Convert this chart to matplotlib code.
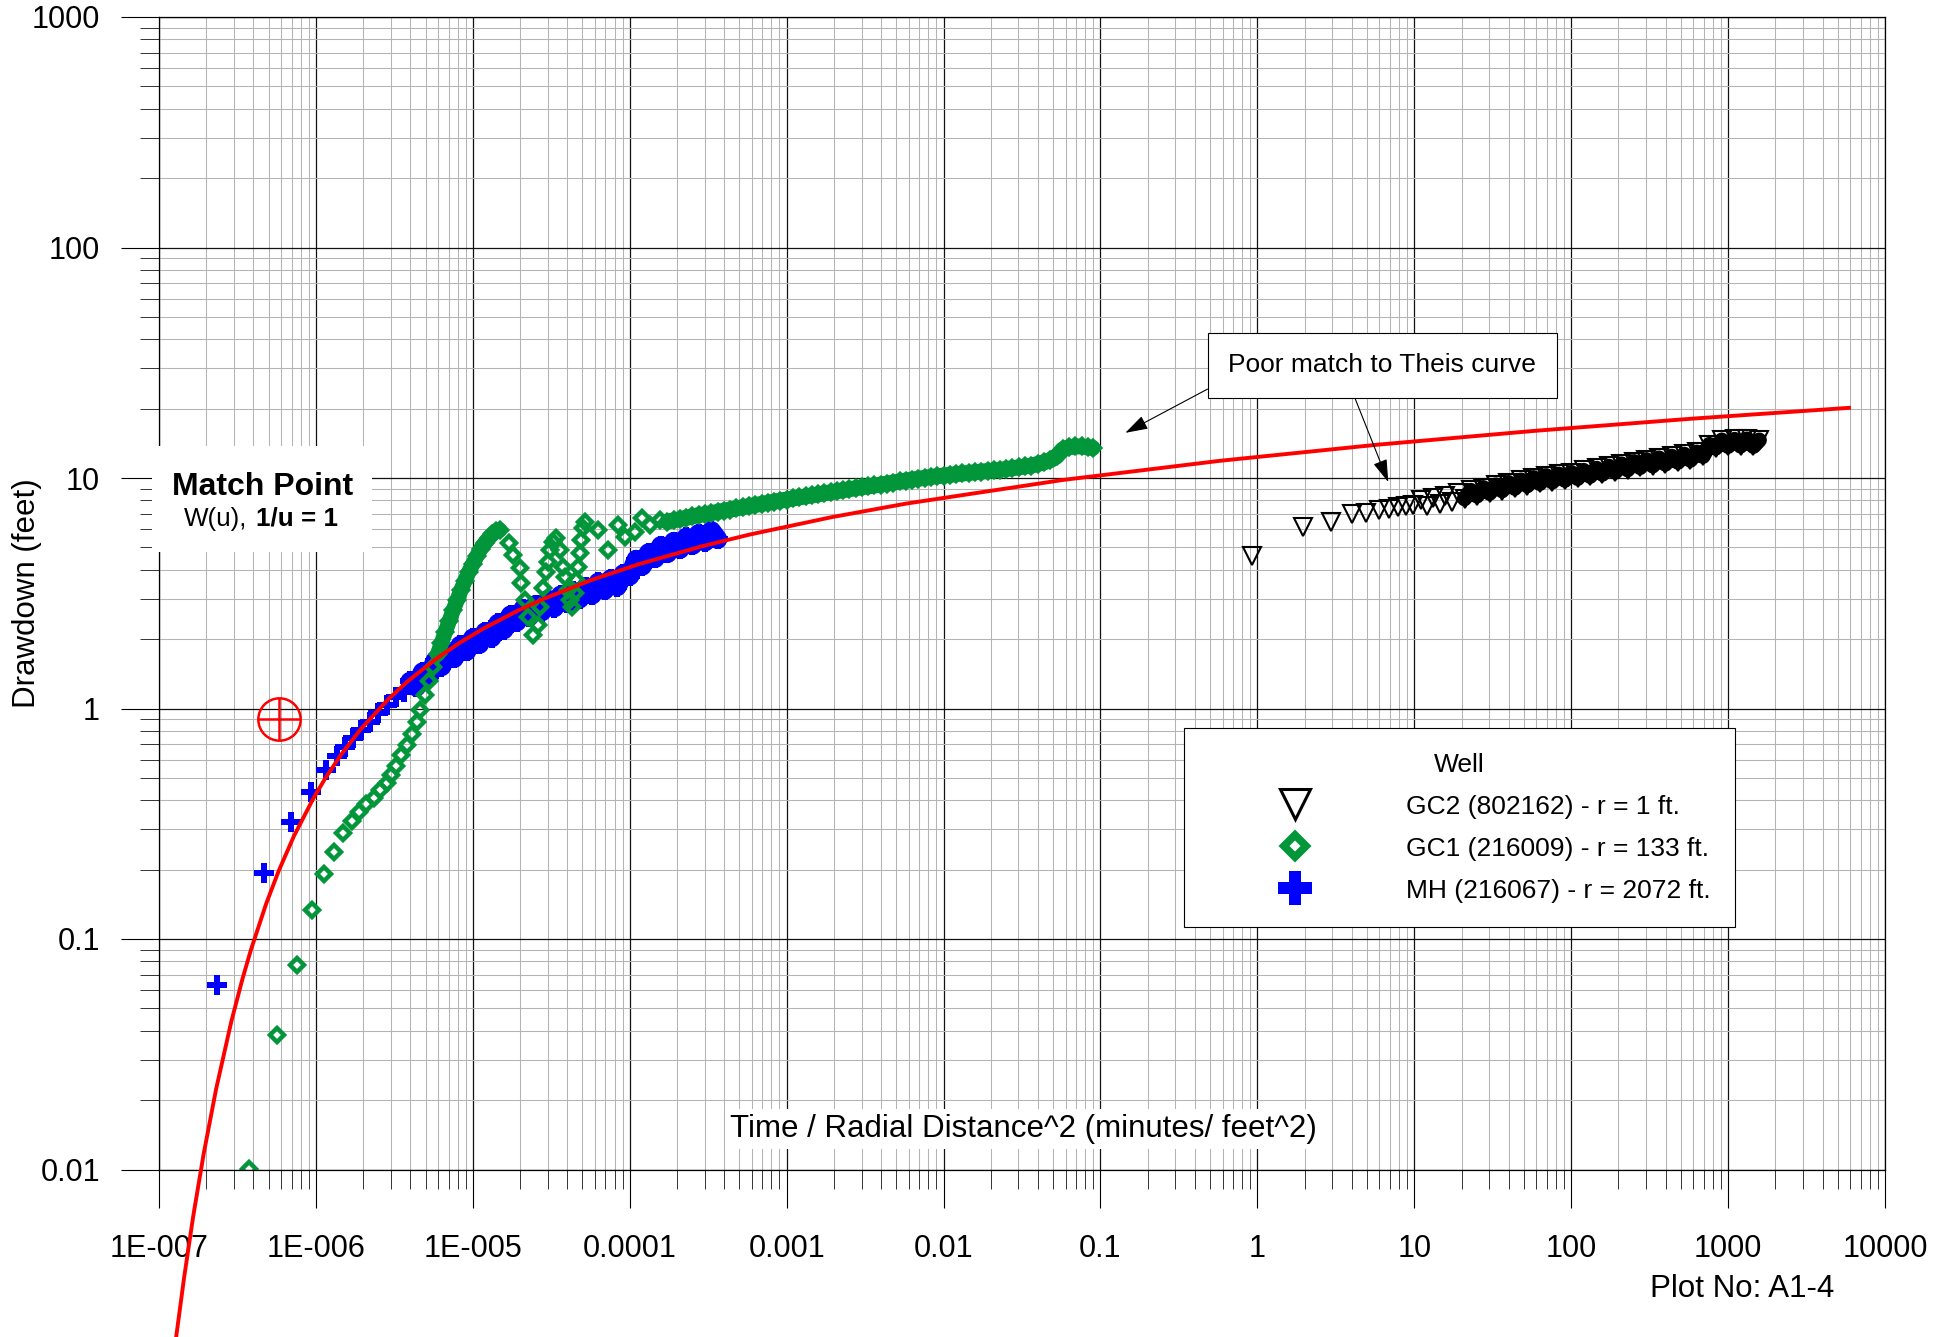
import matplotlib
matplotlib.use('Agg')
import matplotlib.pyplot as plt
from matplotlib.ticker import FixedLocator, FixedFormatter, LogLocator, NullFormatter
from matplotlib.lines import Line2D
from matplotlib.patches import Rectangle

plt.rcParams['font.family'] = ['Liberation Sans', 'DejaVu Sans']

# ---------------- data ----------------
x_ticks = [1e-7, 1e-6, 1e-5, 1e-4, 1e-3, 1e-2, 1e-1, 1, 10, 100, 1000, 10000]
x_tick_labels = ['1E-007', '1E-006', '1E-005', '0.0001', '0.001', '0.01', '0.1',
                 '1', '10', '100', '1000', '10000']
y_ticks = [0.01, 0.1, 1, 10, 100, 1000]
y_tick_labels = ['0.01', '0.1', '1', '10', '100', '1000']

well_labels = ['GC2 (802162) - r = 1 ft.',
               'GC1 (216009) - r = 133 ft.',
               'MH (216067) - r = 2072 ft.']

# GC2 (r = 1 ft)
gc2_t = [0.927, 1.94, 2.96, 3.99, 4.96, 5.97, 6.95, 7.91, 8.85, 9.78,
         10.96, 12.0, 13.2, 14.5, 15.8, 17.4, 19.1, 20.9, 22.9, 25.1,
         27.5, 30.2, 33.1, 36.3, 39.8, 43.7, 47.9, 52.5, 57.5, 63.1,
         69.2, 75.9, 83.2, 91.2, 100, 110, 120, 132, 145, 158,
         174, 191, 209, 229, 251, 275, 302, 331, 363, 398,
         437, 479, 525, 575, 631, 692, 759, 832, 912, 1000,
         1100, 1200, 1320, 1450, 1580]
gc2_s = [4.59, 6.15, 6.46, 6.96, 7.03, 7.26, 7.31, 7.46, 7.56, 7.64,
         8.02, 7.56, 8.18, 7.71, 8.35, 7.89, 8.58, 8.13, 8.83, 8.36,
         9.08, 8.59, 9.32, 8.81, 9.55, 9.03, 9.79, 9.26, 10.03, 9.47,
         10.23, 9.62, 10.39, 9.78, 10.56, 9.96, 10.78, 10.17, 11.01, 10.39,
         11.24, 10.61, 11.50, 10.86, 11.77, 11.11, 12.0, 11.29, 12.2, 11.49,
         12.42, 11.71, 12.67, 11.95, 12.94, 12.42, 13.97, 13.48, 14.59, 13.72,
         14.7, 13.77, 14.75, 13.72, 14.6]

# GC1 (r = 133 ft)
gc1_t = [3.74e-7, 5.67e-7, 7.53e-7, 9.39e-7, 1.13e-6, 1.31e-6, 1.49e-6, 1.70e-6, 1.89e-6, 2.10e-6,
         2.34e-6, 2.58e-6, 2.82e-6, 3.03e-6, 3.26e-6, 3.51e-6, 3.78e-6, 4.07e-6, 4.38e-6, 4.64e-6,
         4.94e-6, 5.27e-6, 5.58e-6,
         5.96e-6, 6.31e-6, 6.68e-6, 7.08e-6, 7.50e-6, 7.94e-6, 8.41e-6, 8.91e-6, 9.44e-6, 1.00e-5,
         1.06e-5, 1.12e-5, 1.19e-5, 1.26e-5, 1.33e-5, 1.41e-5, 1.48e-5,
         1.70e-5, 1.81e-5, 1.99e-5, 2.04e-5, 2.14e-5, 2.25e-5, 2.42e-5, 2.61e-5, 2.67e-5, 2.81e-5,
         2.92e-5, 3.02e-5, 3.09e-5, 3.25e-5, 3.41e-5, 3.58e-5, 3.76e-5, 3.85e-5, 4.05e-5, 4.15e-5,
         4.26e-5, 4.47e-5, 4.57e-5, 4.69e-5, 4.81e-5, 4.92e-5, 5.05e-5, 5.16e-5, 6.28e-5, 7.28e-5,
         8.41e-5, 9.29e-5, 1.08e-4, 1.19e-4, 1.34e-4, 1.55e-4,
         1.74e-4, 1.91e-4, 2.09e-4, 2.29e-4, 2.51e-4, 2.75e-4, 3.02e-4, 3.31e-4, 3.63e-4, 3.98e-4,
         4.37e-4, 4.79e-4, 5.25e-4, 5.75e-4, 6.31e-4, 6.92e-4, 7.59e-4, 8.32e-4, 9.12e-4, 1.00e-3,
         1.10e-3, 1.20e-3, 1.32e-3, 1.45e-3, 1.58e-3, 1.74e-3, 1.91e-3, 2.09e-3, 2.29e-3, 2.51e-3,
         2.75e-3, 3.02e-3, 3.31e-3, 3.63e-3, 3.98e-3, 4.37e-3, 4.79e-3, 5.25e-3, 5.75e-3, 6.31e-3,
         6.92e-3, 7.59e-3, 8.32e-3, 9.12e-3, 1.00e-2, 1.10e-2, 1.20e-2, 1.32e-2, 1.45e-2, 1.58e-2,
         1.74e-2, 1.91e-2, 2.09e-2, 2.29e-2, 2.51e-2, 2.75e-2, 3.02e-2, 3.31e-2, 3.63e-2, 3.98e-2,
         4.37e-2, 4.79e-2, 5.25e-2, 5.75e-2, 6.31e-2, 6.92e-2, 7.59e-2, 8.32e-2, 8.91e-2]
gc1_s = [0.0101, 0.0382, 0.0775, 0.134, 0.192, 0.239, 0.287, 0.324, 0.356, 0.384,
         0.411, 0.441, 0.473, 0.516, 0.564, 0.626, 0.697, 0.774, 0.875, 0.989,
         1.14, 1.31, 1.51,
         1.72, 1.92, 2.15, 2.40, 2.67, 2.95, 3.26, 3.59, 3.92, 4.24,
         4.58, 4.92, 5.21, 5.47, 5.70, 5.88, 5.95,
         5.24, 4.63, 4.06, 3.49, 2.96, 2.50, 2.08, 2.30, 2.77, 3.32,
         3.92, 4.34, 4.87, 5.30, 5.48, 4.87, 4.12, 3.73, 3.27, 2.96,
         2.77, 3.16, 3.61, 4.12, 4.71, 5.38, 6.05, 6.46, 5.95, 4.87,
         6.25, 5.56, 5.84, 6.68, 6.25, 6.57,
         6.47, 6.55, 6.63, 6.72, 6.81, 6.90, 6.96, 7.04, 7.13, 7.21,
         7.30, 7.38, 7.47, 7.55, 7.64, 7.72, 7.80, 7.89, 7.98, 8.06,
         8.15, 8.24, 8.32, 8.41, 8.49, 8.58, 8.67, 8.76, 8.85, 8.94,
         9.03, 9.12, 9.19, 9.28, 9.37, 9.46, 9.55, 9.66, 9.75, 9.84,
         9.93, 10.02, 10.11, 10.18, 10.25, 10.32, 10.39, 10.46, 10.52, 10.59,
         10.66, 10.72, 10.79, 10.85, 10.94, 11.03, 11.12, 11.22, 11.32, 11.5,
         11.7, 11.95, 12.4, 13.3, 13.6, 13.7, 13.7, 13.6, 13.5]

# MH (r = 2072 ft)
mh_t = [2.33e-7, 4.69e-7, 6.97e-7, 9.32e-7, 1.16e-6, 1.36e-6, 1.53e-6, 1.73e-6, 1.95e-6, 2.21e-6,
        2.49e-6, 2.82e-6, 3.26e-6, 3.62e-6,
        3.98e-6, 4.37e-6, 4.79e-6, 5.25e-6, 5.75e-6, 6.31e-6, 6.92e-6, 7.59e-6, 8.32e-6, 9.12e-6,
        1.00e-5, 1.10e-5, 1.20e-5, 1.32e-5, 1.45e-5, 1.58e-5, 1.74e-5, 1.91e-5, 2.09e-5, 2.29e-5,
        2.51e-5, 2.75e-5, 3.02e-5, 3.31e-5, 3.63e-5, 3.98e-5, 4.37e-5, 4.79e-5, 5.25e-5, 5.75e-5,
        6.31e-5, 6.92e-5, 7.59e-5, 8.32e-5, 9.12e-5, 1.00e-4, 1.10e-4, 1.20e-4, 1.32e-4, 1.45e-4,
        1.58e-4, 1.74e-4, 1.91e-4, 2.09e-4, 2.29e-4, 2.51e-4, 2.75e-4, 3.02e-4, 3.31e-4, 3.63e-4]
mh_s = [0.063, 0.194, 0.3225, 0.436, 0.540, 0.624, 0.683, 0.742, 0.807, 0.876,
        0.953, 1.036, 1.125, 1.18,
        1.31, 1.24, 1.44, 1.38, 1.61, 1.52, 1.75, 1.65, 1.88, 1.77,
        2.02, 1.90, 2.15, 2.03, 2.34, 2.20, 2.54, 2.38, 2.70, 2.50,
        2.82, 2.63, 2.97, 2.74, 3.10, 2.87, 3.22, 2.99, 3.36, 3.11,
        3.53, 3.26, 3.65, 3.38, 3.84, 3.76, 4.43, 4.15, 4.73, 4.48,
        5.08, 4.71, 5.30, 4.91, 5.53, 5.11, 5.73, 5.29, 5.90, 5.42]

# Theis type curve (as drawn)
theis_t = [1.284e-7, 1.445e-7, 1.651e-7, 1.927e-7, 2.312e-7, 2.890e-7, 3.400e-7, 3.853e-7, 4.817e-7, 5.78e-7,
           7.225e-7, 9.633e-7, 1.156e-6, 1.445e-6, 1.927e-6, 2.890e-6, 3.853e-6, 5.78e-6, 8.257e-6, 1.156e-5,
           1.927e-5, 2.89e-5, 5.78e-5, 1.156e-4, 2.89e-4, 5.78e-4, 1.927e-3, 5.78e-3, 0.0578, 0.578,
           5.78, 57.8, 578, 5898]
theis_s = [0.00186, 0.00339, 0.00625, 0.01171, 0.02234, 0.04386, 0.06696, 0.0897, 0.1421, 0.1968,
           0.2786, 0.4076, 0.5021, 0.6301, 0.8124, 1.0968, 1.3137, 1.6351, 1.9293, 2.2137,
           2.6543, 3.0092, 3.6220, 4.2393, 5.0585, 5.6794, 6.7587, 7.7440, 9.8093, 11.8748,
           13.9402, 16.0056, 18.0710, 20.155]

# Match point
match_t = [5.78e-7]
match_s = [0.897]

# ---------------- figure ----------------
W, H = 1956, 1337
fig = plt.figure(figsize=(W / 100, H / 100), dpi=100)
L, R, T, B = 159, 1885, 17, 1169.5
ax = fig.add_axes([L / W, 1 - B / H, (R - L) / W, (B - T) / H])

ax.set_xscale('log')
ax.set_yscale('log')
ax.set_xlim(1e-7, 1e4)
ax.set_ylim(0.01, 1000)

ax.xaxis.set_major_locator(FixedLocator(x_ticks))
ax.xaxis.set_major_formatter(FixedFormatter(x_tick_labels))
ax.yaxis.set_major_locator(FixedLocator(y_ticks))
ax.yaxis.set_major_formatter(FixedFormatter(y_tick_labels))
ax.xaxis.set_minor_locator(LogLocator(base=10, subs=range(2, 10), numticks=200))
ax.yaxis.set_minor_locator(LogLocator(base=10, subs=range(2, 10), numticks=200))
ax.xaxis.set_minor_formatter(NullFormatter())
ax.yaxis.set_minor_formatter(NullFormatter())

ax.set_axisbelow(True)
ax.grid(which='minor', color='#b4b4b4', lw=0.75)
ax.grid(which='major', color='#111111', lw=0.9)
ax.tick_params(which='major', direction='out', length=27.4, width=0.8, color='black',
               labelsize=22)
ax.tick_params(axis='y', which='major', pad=15)
ax.tick_params(axis='x', which='major', pad=19)
ax.tick_params(which='minor', direction='out', length=14, width=0.7, color='#333333')
for sp in ax.spines.values():
    sp.set_color('black')
    sp.set_linewidth(0.9)

# data series
green = '#009639'
blue = '#0000ff'
band = dict(solid_joinstyle='round', solid_capstyle='round')
# MH: dense part of the record renders as a continuous band of overlapping symbols
ax.plot(mh_t[14:], mh_s[14:], color=blue, lw=14, zorder=1.9, **band)
ax.plot(mh_t, mh_s, ls='none', marker='P', ms=15, mfc=blue, mec=blue, mew=0, zorder=2)
# GC1
ax.plot(gc1_t[23:40], gc1_s[23:40], color=green, lw=11, zorder=2.05, **band)
ax.plot(gc1_t[76:], gc1_s[76:], color=green, lw=11.5, zorder=2.05, **band)
ax.plot(gc1_t, gc1_s, ls='none', marker='D', ms=6.9, mfc='none', mec=green,
        mew=3.2, zorder=2.1)
# GC2
ax.plot(gc2_t[17:], gc2_s[17:], color='black', lw=11, zorder=2.15, **band)
ax.plot(gc2_t, gc2_s, ls='none', marker='v', ms=12.5, mfc='none', mec='black',
        mew=1.5, zorder=2.2)
# Theis curve
ax.plot(theis_t, theis_s, color='#ff0000', lw=2.8, zorder=3, clip_on=False)

# match point symbol
ax.plot(match_t, match_s, ls='none', marker='o', ms=30.5, mfc='none', mec='#ff0000',
        mew=1.8, zorder=3)
ax.plot(match_t, match_s, ls='none', marker='+', ms=30.5, mec='#ff0000', mew=1.8, zorder=3)

# Match Point label box
ax.add_patch(Rectangle((-0.00423, 0.5361), 0.1275, 0.0917, transform=ax.transAxes,
                       facecolor='white', edgecolor='none', clip_on=False, zorder=3.5))
ax.text(0.0600, 0.5852, 'Match Point', transform=ax.transAxes, ha='center',
        va='baseline', fontsize=23, fontweight='bold', zorder=4)
ax.text(0.0514, 0.5584, 'W(u),', transform=ax.transAxes, ha='right', va='baseline',
        fontsize=18.7, zorder=4)
ax.text(0.0562, 0.5584, '1/u = 1', transform=ax.transAxes, ha='left', va='baseline',
        fontsize=18.7, fontweight='bold', zorder=4)

# labels
ax.set_ylabel('Drawdown (feet)', fontsize=22.5)
ax.yaxis.set_label_coords(-0.0765, 0.5)
ax.yaxis.label.set_verticalalignment('center')
ax.set_xlabel('Time / Radial Distance^2 (minutes/ feet^2)', fontsize=22.5,
              bbox=dict(boxstyle='square,pad=0.15', facecolor='white', edgecolor='none'))
ax.xaxis.set_label_coords(0.5006, 0.0351)
ax.xaxis.label.set_verticalalignment('center')
ax.xaxis.label.set_zorder(4)

fig.text(1834 / W, 1 - 1289 / H, 'Plot No: A1-4', ha='right', va='center', fontsize=22.5)

# annotation
ax.text(6.24, 30.8, 'Poor match to Theis curve', ha='center', va='center', fontsize=19,
        zorder=4, bbox=dict(boxstyle='square,pad=0.78', facecolor='white',
                            edgecolor='black', linewidth=0.8))
arrow_kw = dict(arrowstyle='-|>,head_length=0.7,head_width=0.22', color='black',
                lw=0.8, shrinkA=0, shrinkB=0, mutation_scale=20)
ax.annotate('', xy=(0.144, 15.7), xytext=(0.481, 24.3), arrowprops=arrow_kw, zorder=4)
ax.annotate('', xy=(6.83, 9.6), xytext=(4.21, 22.0), arrowprops=arrow_kw, zorder=4)

# legend
handles = [
    Line2D([], [], ls='none', marker='v', ms=22, mfc='none', mec='black', mew=2.2),
    Line2D([], [], ls='none', marker='D', ms=11.2, mfc='none', mec=green, mew=5.6),
    Line2D([], [], ls='none', marker='P', ms=25, mfc=blue, mec=blue, mew=0),
]
leg = ax.legend(handles, well_labels, title='Well', loc='upper left',
                bbox_to_anchor=(1184.4 / W, 1 - 728.3 / H), bbox_transform=fig.transFigure,
                borderaxespad=0, fontsize=19, title_fontsize=19, frameon=True,
                fancybox=False, shadow=False, framealpha=1, edgecolor='black',
                borderpad=0.93, handlelength=6.49, handletextpad=0.96, labelspacing=0.64,
                handleheight=0.9)
leg.get_frame().set_linewidth(0.8)
leg.set_zorder(5)

fig.savefig('out.png', dpi=100)
